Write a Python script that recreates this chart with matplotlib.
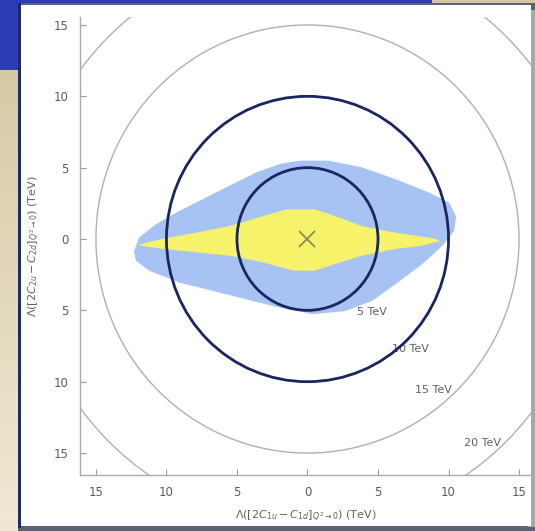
import numpy as np
import matplotlib.pyplot as plt
from matplotlib.colors import LinearSegmentedColormap
from matplotlib.patches import Rectangle, Circle

# outer allowed region (blue), clockwise from the left tip, in TeV
blue_x = [-12.23, -11.88, -10.7, -9.04, -7.39, -5.5, -3.6, -1.95, -0.53,
          1.48, 3.84, 6.2, 8.57, 9.99, 10.46, 10.34, 9.52, 8.1, 6.2,
          4.55, 2.66, 0.3, -0.53, -1.95, -4.31, -6.68, -9.04, -11.17, -12.1]
blue_y = [-0.89, 0.05, 0.98, 1.91, 2.73, 3.67, 4.6, 5.19, 5.42,
          5.42, 4.95, 4.13, 3.2, 2.5, 1.56, 0.63, -0.42, -1.7, -3.1,
          -4.27, -4.98, -5.2, -4.98, -4.74, -4.16, -3.57, -2.99, -2.17, -1.47]

# inner allowed region (yellow)
yellow_x = [-11.88, -10.2, -7.86, -5.5, -3.13, -1.48, -0.89, 0.53, 1.95,
            3.84, 6.2, 9.04, 9.28, 8.1, 6.2, 3.84, 1.95, 0.53, -0.89,
            -1.48, -3.13, -5.5, -7.86, -10.2]
yellow_y = [-0.42, -0.02, 0.4, 0.86, 1.56, 2.03, 2.03, 2.03, 1.56,
            0.86, 0.4, -0.02, -0.12, -0.42, -0.65, -1.12, -1.7, -2.17, -2.17,
            -2.05, -1.59, -1.12, -0.89, -0.65]

grey_radii = [5, 10, 15, 20]
grey_labels = ["5 TeV", "10 TeV", "15 TeV", "20 TeV"]
label_x = [4.6, 7.3, 8.9, 12.4]
label_y = [-5.1, -7.7, -10.6, -14.3]
dark_radii = [5, 10]
tick_values = [-15, -10, -5, 0, 5, 10, 15]
tick_labels = [str(abs(t)) for t in tick_values]

W, H = 535, 531
fig = plt.figure(figsize=(W / 100, H / 100), dpi=100)
fig.patch.set_facecolor("#e6dcc0")


def px_rect(x0, y0, x1, y1, **kw):
    # rectangle given in pixel coords measured from the top-left corner
    r = Rectangle((x0 / W, 1 - y1 / H), (x1 - x0) / W, (y1 - y0) / H,
                  transform=fig.transFigure, **kw)
    fig.add_artist(r)
    return r


# beige slide background, darker at the top
grad = np.linspace(0, 1, 256).reshape(-1, 1)
bg = fig.add_axes([0, 0, 1, 1], zorder=-10)
bg.imshow(grad, aspect="auto", extent=[0, 1, 0, 1],
          cmap=LinearSegmentedColormap.from_list("slide", ["#d3c59f", "#f0e8d4"]))
bg.axis("off")

px_rect(0, 0, 20, 70, facecolor="#2c3cb4", edgecolor="none", zorder=-5)
px_rect(0, 0, 432, 4, facecolor="#2c3cb4", edgecolor="none", zorder=-5)
px_rect(18, 3, 535, 531, facecolor="#5c6274", edgecolor="none", zorder=-4)
px_rect(528, 10, 535, 527, facecolor="#a8a8a8", edgecolor="none", zorder=-3)
px_rect(20, 5, 531, 526, facecolor="white", edgecolor="none", zorder=-2)
px_rect(18, 3, 21, 528, facecolor="#1f2a6a", edgecolor="none", zorder=-1)

# plot area
ax = fig.add_axes([80 / W, 1 - 475 / H, 452 / W, 458 / H])
ax.set_facecolor("none")
ax.set_xlim(-16.13, 15.92)
ax.set_ylim(-16.54, 15.56)

ax.fill(blue_x, blue_y, color="#a6c3f4", lw=1.5, joinstyle="round", zorder=1)
ax.fill(yellow_x, yellow_y, color="#f6f36b", lw=1.0, joinstyle="round", zorder=2)

for r in grey_radii:
    ax.add_patch(Circle((0, 0), r, fill=False, edgecolor="#b0b0b0", lw=1.0, zorder=3))
for txt, x, y in zip(grey_labels, label_x, label_y):
    ax.text(x, y, txt, fontsize=8, color="#5f5f5f", ha="center", va="center", zorder=4)
for r in dark_radii:
    ax.add_patch(Circle((0, 0), r, fill=False, edgecolor="#1b2560", lw=2.0, zorder=5))

ax.plot([0], [0], marker="x", markersize=12, mew=1.3, color="#8a8a55", zorder=6)

for side in ["top", "right"]:
    ax.spines[side].set_visible(False)
for side in ["left", "bottom"]:
    ax.spines[side].set_color("#aaaaaa")
    ax.spines[side].set_linewidth(1.0)

ax.set_xticks(tick_values)
ax.set_xticklabels(tick_labels)
ax.set_yticks(tick_values)
ax.set_yticklabels(tick_labels)
ax.tick_params(direction="in", length=4, width=0.8, color="#999999",
               labelsize=8.5, labelcolor="#5a5a5a", pad=8)

ax.set_xlabel(r"$\Lambda([2C_{1u}-C_{1d}]_{Q^2\to 0})$ (TeV)", fontsize=8,
              color="#5f5f5f", labelpad=7)
ax.set_ylabel(r"$\Lambda([2C_{2u}-C_{2d}]_{Q^2\to 0})$ (TeV)", fontsize=8,
              color="#5f5f5f", labelpad=9)

fig.savefig("out.png", dpi=100)
